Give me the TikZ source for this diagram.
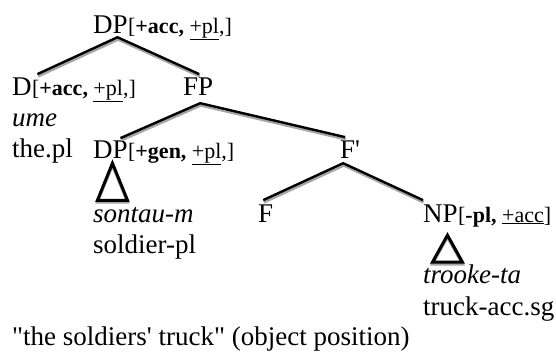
\documentclass[tikz,border=0pt]{standalone}
\usepackage{fontspec}
\setmainfont{Liberation Serif}

\begin{document}
\begin{tikzpicture}[x=1pt,y=1pt,
    cat/.style={font=\fontsize{27}{32}\selectfont, inner sep=0pt, anchor=base west},
    feat/.style={font=\fontsize{22}{26}\selectfont, inner sep=0pt, anchor=base west},
    branch/.style={line width=2.4pt,
        preaction={draw=black!35, line width=3pt, transform canvas={shift={(0.6pt,-2pt)}}}},
    roof/.style={line width=3pt, line join=miter,
        preaction={draw=black!35, line width=3pt, transform canvas={shift={(0pt,-1.8pt)}}}}]

    \useasboundingbox (0,0) rectangle (556,-351);

    % categories
    \node[cat] (dpa) at (93,-33) {DP};
    \node[feat] (dpa-f) at (dpa.base east) {[\textbf{+acc,} \underline{+pl},]};

    \node[cat] (d) at (12,-95) {D};
    \node[feat] (d-f) at (d.base east) {[\textbf{+acc,} \underline{+pl},]};
    \node[cat] (fp) at (183,-95) {FP};

    \node[cat] (dpb) at (93,-158) {DP};
    \node[feat] (dpb-f) at (dpb.base east) {[\textbf{+gen,} \underline{+pl},]};
    \node[cat] (fbar) at (340,-158) {F\textquotesingle};

    \node[cat] (f) at (258,-222) {F};
    \node[cat] (np) at (423,-222) {NP};
    \node[feat] (np-f) at (np.base east) {[\textbf{-pl,} \underline{+acc}]};

    % words and glosses
    \node[cat] (ume) at ([yshift=-31pt]d.base west) {\itshape ume};
    \node[cat] (thepl) at ([yshift=-31pt]ume.base west) {the.pl};
    \node[cat] (sontau) at (93,-222) {\itshape sontau-m};
    \node[cat] (soldier) at ([yshift=-31pt]sontau.base west) {soldier-pl};
    \node[cat] (trooke) at (423,-283) {\itshape trooke-ta};
    \node[cat] (truck) at ([yshift=-32pt]trooke.base west) {truck-acc.sg};

    \node[cat] (caption) at (12,-345) {\textquotedbl the soldiers\textquotesingle{} truck\textquotedbl{} (object position)};

    % branches
    \draw[branch] ([xshift=5.5pt,yshift=3pt]d.north east) -- ([xshift=7pt,yshift=-4pt]dpa.south)
        -- ([xshift=1pt,yshift=3pt]fp.north);
    \draw[branch] ([xshift=10pt,yshift=2pt]dpb.north) -- ([xshift=2pt,yshift=-8pt]fp.south)
        -- ([xshift=-5pt,yshift=3pt]fbar.north);
    \draw[branch] ([xshift=-2.5pt,yshift=4pt]f.north) -- ([xshift=-7pt,yshift=-5pt]fbar.south)
        -- ([yshift=4pt]np.north west);

    % roofs
    \draw[roof] ([xshift=2pt,yshift=-5pt]dpb.south) -- ++(-15,-37) -- ++(30,0) -- cycle;
    \draw[roof] ([xshift=7pt,yshift=-13pt]np.south) -- ++(-15,-27) -- ++(30,0) -- cycle;

\end{tikzpicture}
\end{document}
